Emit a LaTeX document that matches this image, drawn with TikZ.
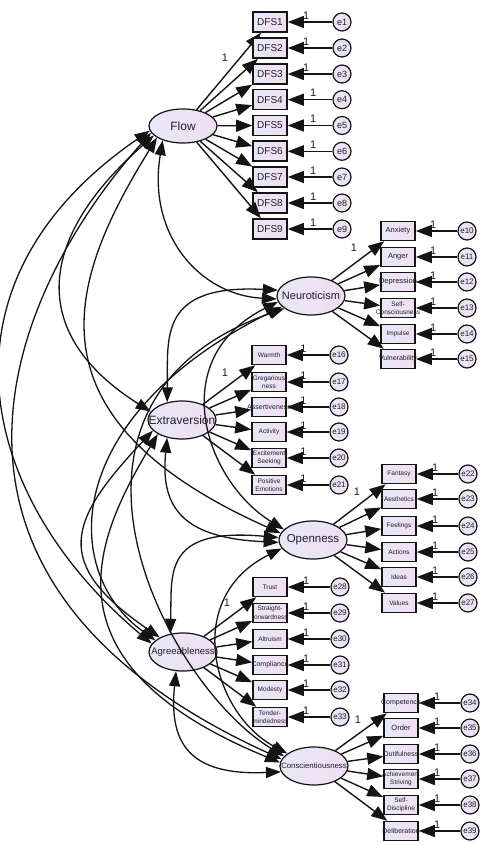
\documentclass[tikz,border=0pt]{standalone}
\usepackage{fontspec}
\setmainfont{Liberation Sans}
\usepackage{tikz}
\usetikzlibrary{arrows.meta,shapes.geometric}
\definecolor{fillL}{RGB}{232,232,246}
\definecolor{fillR}{RGB}{241,222,243}
\definecolor{linegray}{RGB}{20,20,20}
\definecolor{txtgray}{RGB}{30,30,40}
\newcommand{\NoWd}[1]{\makebox[0pt]{#1}}
\newcommand{\TwoRow}[2]{\makebox[0pt]{\shortstack{#1\\#2}}}
\newcommand{\LatFont}[1]{\fontsize{#1}{#1}\selectfont}
\newcommand{\BigLab}{\fontsize{7.5}{8}\selectfont}
\newcommand{\MidLab}{\fontsize{7}{8}\selectfont}

\begin{document}
\begin{tikzpicture}[x=1pt,y=1pt,
    lat/.style={ellipse,draw=linegray,line width=1.2pt,left color=fillL,right color=fillR,
      minimum width=68pt,minimum height=38pt,inner sep=0pt,text=txtgray},
    obs/.style={rectangle,draw=linegray,line width=1.6pt,left color=fillL,right color=fillR,
      minimum width=34pt,minimum height=19pt,inner sep=0pt,text=txtgray,font=\fontsize{6.5}{7}\selectfont},
    dfs/.style={obs,minimum height=20pt,font=\fontsize{10}{11}\selectfont},
    err/.style={circle,draw=linegray,line width=1.2pt,left color=fillL,right color=fillR,
      minimum size=18pt,inner sep=0pt,text=txtgray,font=\fontsize{9}{10}\selectfont},
    load/.style={-{Triangle[length=16pt,width=12pt]},line width=1.4pt,linegray},
    cov/.style={{Triangle[length=15pt,width=11pt]}-{Triangle[length=15pt,width=11pt]},line width=1.3pt,linegray},
    one/.style={font=\fontsize{11}{11}\selectfont,inner sep=1pt,text=txtgray}]
  \useasboundingbox (0,0) rectangle (484,-842);
  \fill[white] (0,0) rectangle (484,-842);

  % latent factors
  \node[lat,minimum height=34pt] (flow) at (183,-126) {\LatFont{12}\NoWd{Flow}};
  \node[lat] (neur) at (311,-296) {\LatFont{11}\NoWd{Neuroticism}};
  \node[lat] (extra) at (182,-420) {\LatFont{12}\NoWd{Extraversion}};
  \node[lat] (open) at (313,-540) {\LatFont{11.5}\NoWd{Openness}};
  \node[lat] (agree) at (183,-652) {\LatFont{9.5}\NoWd{Agreeableness}};
  \node[lat] (consc) at (314,-766) {\LatFont{7.8}\NoWd{Conscientiousness}};

  % indicators and errors
  \foreach \k/\y/\p in {1/22/0.59,2/48/0.59,3/74/0.59,4/99.7/0.43,5/125.5/0.43,
      6/151.3/0.43,7/177/0.43,8/203/0.43,9/229/0.43}{
    \node[dfs] (dfs\k) at (270,-\y) {\NoWd{DFS\k}};
    \node[err] (e\k) at (342,-\y) {\NoWd{e\k}};
    \draw[load] (flow) -- (dfs\k);
    \draw[load] (e\k) -- node[one,pos=\p,above=1pt] (w\k) {1} (dfs\k);
  }
  \foreach \k/\en/\y/\lab in {1/10/231/{\BigLab Anxiety},2/11/257/{\BigLab Anger},
      3/12/282/{\BigLab Depression},4/13/308/{\TwoRow{Self-}{Consciousness}},
      5/14/334/{Impulse},6/15/359/{\MidLab Vulnerability}}{
    \node[obs] (neur\k) at (398,-\y) {\NoWd{\lab}};
    \node[err,font=\fontsize{8}{9}\selectfont] (e\en) at (467,-\y) {\NoWd{e\en}};
    \draw[load] (neur) -- (neur\k);
    \draw[load] (e\en) -- node[one,pos=0.58,above=1pt] (w\en) {1} (neur\k);
  }
  \foreach \k/\en/\y/\lab in {1/16/355/{Warmth},2/17/382/{\TwoRow{Gregarious}{ness}},
      3/18/407/{\MidLab Assertiveness},4/19/432/{Activity},
      5/20/458/{\TwoRow{Excitement}{Seeking}},6/21/485/{\TwoRow{Positive}{Emotions}}}{
    \node[obs] (extra\k) at (269,-\y) {\NoWd{\lab}};
    \node[err,font=\fontsize{8}{9}\selectfont] (e\en) at (339,-\y) {\NoWd{e\en}};
    \draw[load] (extra) -- (extra\k);
    \draw[load] (e\en) -- node[one,pos=0.61,above=1pt] (w\en) {1} (extra\k);
  }
  \foreach \k/\en/\y/\lab in {1/22/474/{Fantasy},2/23/499/{Aesthetics},3/24/526/{Feelings},
      4/25/552/{Actions},5/26/577/{Ideas},6/27/603/{Values}}{
    \node[obs] (open\k) at (399,-\y) {\NoWd{\lab}};
    \node[err,font=\fontsize{8}{9}\selectfont] (e\en) at (468,-\y) {\NoWd{e\en}};
    \draw[load] (open) -- (open\k);
    \draw[load] (e\en) -- node[one,pos=0.56,above=1pt] (w\en) {1} (open\k);
  }
  \foreach \k/\en/\y/\lab in {1/28/587/{Trust},2/29/613/{\TwoRow{Straight-}{forwardness}},
      3/30/639/{Altruism},4/31/665/{\MidLab Compliance},5/32/690/{Modesty},
      6/33/717/{\TwoRow{Tender-}{mindedness}}}{
    \node[obs] (agree\k) at (270,-\y) {\NoWd{\lab}};
    \node[err,font=\fontsize{8}{9}\selectfont] (e\en) at (340,-\y) {\NoWd{e\en}};
    \draw[load] (agree) -- (agree\k);
    \draw[load] (e\en) -- node[one,pos=0.57,above=1pt] (w\en) {1} (agree\k);
  }
  \foreach \k/\en/\y/\lab in {1/34/703/{\MidLab Competence},2/35/728/{\BigLab Order},
      3/36/754/{\MidLab Dutifulness},4/37/779/{\TwoRow{Achievement}{Striving}},
      5/38/805/{\TwoRow{Self-}{Discipline}},6/39/831/{\MidLab Deliberation}}{
    \node[obs] (consc\k) at (401,-\y) {\NoWd{\lab}};
    \node[err,font=\fontsize{8}{9}\selectfont] (e\en) at (470,-\y) {\NoWd{e\en}};
    \draw[load] (consc) -- (consc\k);
    \draw[load] (e\en) -- node[one,pos=0.56,above=1pt] (w\en) {1} (consc\k);
  }

  % fixed loadings
  \node[one] (fixflow) at (225,-58) {1};
  \node[one] (fixneur) at (354,-248) {1};
  \node[one] (fixextra) at (225,-373) {1};
  \node[one] (fixopen) at (357,-492) {1};
  \node[one] (fixagree) at (227,-603) {1};
  \node[one] (fixconsc) at (358,-720) {1};

  % covariances
  \draw[cov] (flow.215) .. controls (147,-235) and (200,-295) .. (neur.185);
  \draw[cov] (flow.198) .. controls (33,-242) and (31,-336) .. (extra.165);
  \draw[cov] (flow.204) .. controls (69,-280) and (20,-417) .. (open.168);
  \draw[cov] (flow.188) .. controls (-75,-285) and (-20,-500) .. (agree.165);
  \draw[cov] (flow.192) .. controls (5.5,-296) and (-110.6,-580.5) .. (consc.168);
  \draw[cov] (neur.170) .. controls (158,-284) and (168,-338) .. (extra.130);
  \draw[cov] (neur.190) .. controls (164,-359) and (205,-481) .. (open.160);
  \draw[cov] (neur.200) .. controls (59,-418) and (61,-573) .. (agree.157);
  \draw[cov] (neur.205) .. controls (18,-402) and (165,-684) .. (consc.162);
  \draw[cov] (extra.230) .. controls (160,-509) and (184,-538) .. (open.184);
  \draw[cov] (extra.200) .. controls (68,-521) and (51.5,-563) .. (agree.148);
  \draw[cov] (extra.210) .. controls (95,-539) and (38,-663) .. (consc.174);
  \draw[cov] (open.176) .. controls (162,-527) and (172,-574) .. (agree.125);
  \draw[cov] (open.195) .. controls (182,-598) and (212,-713) .. (consc.155);
  \draw[cov] (agree.250) .. controls (169,-741) and (187,-776) .. (consc.190);
\end{tikzpicture}
\end{document}
